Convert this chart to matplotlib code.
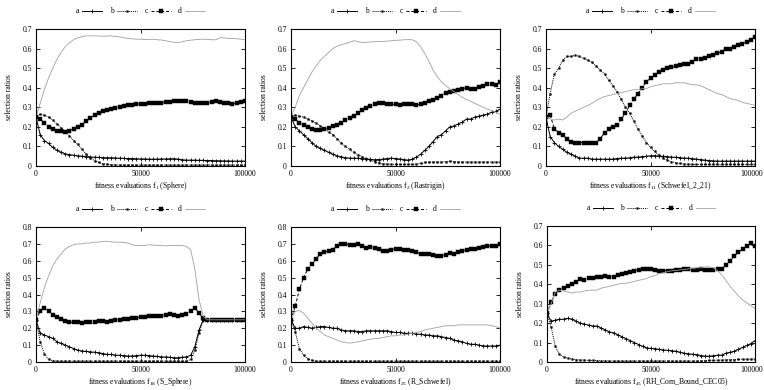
import matplotlib
matplotlib.use('Agg')
import matplotlib.pyplot as plt
from matplotlib.transforms import ScaledTranslation

plt.rcParams['font.family'] = ['Liberation Serif', 'DejaVu Serif']
plt.rcParams['mathtext.fontset'] = 'custom'
plt.rcParams['mathtext.rm'] = 'Liberation Serif'
plt.rcParams['mathtext.it'] = 'Liberation Serif'

evals = list(range(0, 100001, 2000))
labels = ['a', 'b', 'c', 'd']

# f1 Sphere
sphere_a = [0.25, 0.16, 0.13, 0.115, 0.095, 0.08, 0.07, 0.062, 0.058, 0.055,
            0.052, 0.05, 0.048, 0.046, 0.045, 0.044, 0.043, 0.042, 0.042, 0.041,
            0.04, 0.039, 0.038, 0.038, 0.037, 0.036, 0.036, 0.035, 0.035, 0.035,
            0.036, 0.036, 0.037, 0.037, 0.035, 0.032, 0.03, 0.03, 0.03, 0.029,
            0.029, 0.028, 0.028, 0.027, 0.027, 0.026, 0.026, 0.025, 0.025, 0.025,
            0.025]
sphere_b = [0.25, 0.265, 0.26, 0.25, 0.235, 0.215, 0.195, 0.175, 0.155, 0.13,
            0.11, 0.085, 0.06, 0.042, 0.028, 0.018, 0.012, 0.009, 0.007, 0.006,
            0.005, 0.005, 0.005, 0.005, 0.005, 0.005, 0.005, 0.005, 0.005, 0.005,
            0.005, 0.005, 0.005, 0.005, 0.005, 0.005, 0.005, 0.005, 0.005, 0.005,
            0.005, 0.005, 0.005, 0.005, 0.005, 0.005, 0.005, 0.005, 0.005, 0.005,
            0.005]
sphere_c = [0.25, 0.24, 0.22, 0.2, 0.19, 0.18, 0.177, 0.175, 0.18, 0.19,
            0.2, 0.21, 0.23, 0.245, 0.26, 0.27, 0.28, 0.285, 0.29, 0.295,
            0.3, 0.305, 0.31, 0.312, 0.315, 0.318, 0.318, 0.32, 0.32, 0.322,
            0.322, 0.325, 0.325, 0.33, 0.333, 0.333, 0.33, 0.325, 0.322, 0.32,
            0.32, 0.322, 0.325, 0.333, 0.328, 0.32, 0.32, 0.318, 0.322, 0.325,
            0.33]
sphere_d = [0.25, 0.32, 0.39, 0.45, 0.5, 0.545, 0.58, 0.61, 0.63, 0.645,
            0.655, 0.66, 0.665, 0.665, 0.665, 0.664, 0.663, 0.664, 0.665, 0.662,
            0.66, 0.655, 0.652, 0.65, 0.648, 0.648, 0.646, 0.647, 0.648, 0.645,
            0.644, 0.64, 0.636, 0.632, 0.63, 0.635, 0.64, 0.643, 0.645, 0.647,
            0.648, 0.647, 0.645, 0.645, 0.655, 0.655, 0.652, 0.652, 0.65, 0.648,
            0.645]

# f2 Rastrigin
rastrigin_a = [0.25, 0.2, 0.18, 0.16, 0.14, 0.12, 0.1, 0.09, 0.08, 0.07,
               0.06, 0.052, 0.047, 0.043, 0.04, 0.04, 0.04, 0.038, 0.036, 0.034,
               0.032, 0.033, 0.035, 0.038, 0.04, 0.038, 0.036, 0.033, 0.03, 0.035,
               0.045, 0.06, 0.08, 0.1, 0.125, 0.15, 0.16, 0.18, 0.2, 0.205,
               0.215, 0.225, 0.24, 0.24, 0.25, 0.255, 0.26, 0.265, 0.275, 0.28,
               0.29]
rastrigin_b = [0.25, 0.26, 0.255, 0.25, 0.24, 0.23, 0.22, 0.205, 0.19, 0.175,
               0.16, 0.14, 0.12, 0.1, 0.085, 0.07, 0.058, 0.048, 0.038, 0.03,
               0.022, 0.016, 0.012, 0.01, 0.009, 0.008, 0.008, 0.008, 0.008, 0.009,
               0.01, 0.013, 0.018, 0.02, 0.02, 0.02, 0.02, 0.022, 0.025, 0.022,
               0.02, 0.02, 0.02, 0.02, 0.02, 0.02, 0.02, 0.02, 0.02, 0.02,
               0.02]
rastrigin_c = [0.25, 0.24, 0.22, 0.21, 0.2, 0.19, 0.185, 0.185, 0.19, 0.195,
               0.205, 0.21, 0.22, 0.235, 0.245, 0.255, 0.27, 0.285, 0.295, 0.305,
               0.315, 0.32, 0.32, 0.318, 0.315, 0.315, 0.312, 0.315, 0.318, 0.315,
               0.31, 0.318, 0.322, 0.33, 0.338, 0.345, 0.36, 0.375, 0.38, 0.385,
               0.39, 0.395, 0.4, 0.395, 0.395, 0.405, 0.41, 0.42, 0.42, 0.415,
               0.43]
rastrigin_d = [0.25, 0.3, 0.36, 0.4, 0.44, 0.48, 0.51, 0.54, 0.56, 0.58,
               0.6, 0.612, 0.62, 0.625, 0.632, 0.64, 0.636, 0.63, 0.632, 0.634,
               0.635, 0.636, 0.637, 0.638, 0.64, 0.642, 0.643, 0.645, 0.646, 0.645,
               0.635, 0.61, 0.575, 0.535, 0.49, 0.455, 0.43, 0.41, 0.395, 0.38,
               0.365, 0.35, 0.34, 0.33, 0.32, 0.31, 0.3, 0.29, 0.283, 0.275,
               0.265]

# f11 Schwefel_2_21
schwefel_a = [0.25, 0.15, 0.12, 0.1, 0.085, 0.07, 0.06, 0.05, 0.04, 0.04,
              0.04, 0.035, 0.035, 0.035, 0.035, 0.035, 0.035, 0.038, 0.04, 0.04,
              0.042, 0.045, 0.045, 0.048, 0.05, 0.052, 0.053, 0.05, 0.05, 0.048,
              0.045, 0.045, 0.043, 0.04, 0.04, 0.038, 0.035, 0.033, 0.03, 0.028,
              0.026, 0.025, 0.025, 0.025, 0.025, 0.025, 0.025, 0.025, 0.025, 0.025,
              0.025]
schwefel_b = [0.25, 0.37, 0.47, 0.5, 0.54, 0.56, 0.56, 0.565, 0.56, 0.55,
              0.54, 0.53, 0.51, 0.49, 0.47, 0.44, 0.41, 0.38, 0.34, 0.3,
              0.27, 0.23, 0.19, 0.155, 0.12, 0.095, 0.075, 0.055, 0.04, 0.03,
              0.022, 0.017, 0.013, 0.01, 0.009, 0.008, 0.008, 0.008, 0.008, 0.008,
              0.008, 0.008, 0.008, 0.008, 0.008, 0.008, 0.008, 0.008, 0.008, 0.008,
              0.008]
schwefel_c = [0.25, 0.26, 0.19, 0.17, 0.16, 0.14, 0.125, 0.12, 0.12, 0.12,
              0.12, 0.12, 0.12, 0.14, 0.17, 0.19, 0.2, 0.21, 0.24, 0.27,
              0.31, 0.34, 0.37, 0.4, 0.43, 0.45, 0.465, 0.48, 0.49, 0.5,
              0.505, 0.51, 0.515, 0.52, 0.52, 0.53, 0.545, 0.545, 0.55, 0.56,
              0.565, 0.575, 0.585, 0.6, 0.6, 0.61, 0.62, 0.625, 0.635, 0.645,
              0.66]
schwefel_d = [0.25, 0.24, 0.235, 0.24, 0.235, 0.25, 0.27, 0.28, 0.29, 0.3,
              0.31, 0.32, 0.335, 0.345, 0.355, 0.36, 0.365, 0.37, 0.375, 0.38,
              0.385, 0.39, 0.39, 0.395, 0.395, 0.405, 0.41, 0.415, 0.42, 0.42,
              0.42, 0.425, 0.425, 0.425, 0.42, 0.415, 0.415, 0.41, 0.4, 0.39,
              0.38, 0.37, 0.365, 0.355, 0.345, 0.34, 0.335, 0.325, 0.32, 0.315,
              0.31]

# f18 S_Sphere
ssphere_a = [0.25, 0.17, 0.16, 0.15, 0.14, 0.12, 0.11, 0.1, 0.09, 0.08,
             0.07, 0.065, 0.063, 0.06, 0.058, 0.055, 0.05, 0.045, 0.045, 0.04,
             0.04, 0.038, 0.035, 0.035, 0.038, 0.04, 0.04, 0.038, 0.035, 0.033,
             0.03, 0.03, 0.028, 0.025, 0.025, 0.028, 0.03, 0.04, 0.09, 0.19,
             0.25, 0.25, 0.25, 0.25, 0.25, 0.25, 0.25, 0.25, 0.25, 0.25,
             0.25]
ssphere_b = [0.25, 0.12, 0.05, 0.015, 0.008, 0.005, 0.005, 0.005, 0.005, 0.005,
             0.005, 0.005, 0.005, 0.005, 0.005, 0.005, 0.005, 0.005, 0.005, 0.005,
             0.005, 0.005, 0.005, 0.005, 0.005, 0.005, 0.005, 0.005, 0.005, 0.005,
             0.005, 0.005, 0.005, 0.005, 0.005, 0.005, 0.005, 0.015, 0.07, 0.17,
             0.25, 0.25, 0.25, 0.25, 0.25, 0.25, 0.25, 0.25, 0.25, 0.25,
             0.25]
ssphere_c = [0.25, 0.3, 0.32, 0.3, 0.28, 0.265, 0.255, 0.245, 0.235, 0.235,
             0.235, 0.232, 0.235, 0.24, 0.24, 0.245, 0.245, 0.24, 0.245, 0.25,
             0.25, 0.255, 0.255, 0.26, 0.26, 0.265, 0.265, 0.27, 0.27, 0.27,
             0.275, 0.28, 0.285, 0.28, 0.275, 0.28, 0.285, 0.3, 0.32, 0.29,
             0.26, 0.25, 0.25, 0.25, 0.25, 0.25, 0.25, 0.25, 0.25, 0.25,
             0.25]
ssphere_d = [0.25, 0.35, 0.44, 0.51, 0.57, 0.61, 0.64, 0.67, 0.685, 0.695,
             0.7, 0.7, 0.705, 0.705, 0.71, 0.71, 0.715, 0.715, 0.712, 0.71,
             0.71, 0.708, 0.705, 0.695, 0.69, 0.69, 0.69, 0.695, 0.693, 0.69,
             0.69, 0.688, 0.69, 0.69, 0.69, 0.69, 0.685, 0.665, 0.55, 0.37,
             0.27, 0.25, 0.25, 0.25, 0.25, 0.25, 0.25, 0.25, 0.25, 0.25,
             0.25]

# f25 R_Schwefel
rschwefel_a = [0.25, 0.2, 0.2, 0.21, 0.205, 0.2, 0.205, 0.21, 0.21, 0.205,
               0.2, 0.2, 0.19, 0.185, 0.185, 0.185, 0.18, 0.18, 0.185, 0.185,
               0.185, 0.185, 0.185, 0.185, 0.18, 0.175, 0.175, 0.17, 0.17, 0.17,
               0.165, 0.165, 0.16, 0.16, 0.155, 0.155, 0.15, 0.145, 0.14, 0.13,
               0.125, 0.12, 0.11, 0.105, 0.105, 0.1, 0.095, 0.095, 0.095, 0.095,
               0.1]
rschwefel_b = [0.25, 0.18, 0.08, 0.04, 0.02, 0.01, 0.005, 0.005, 0.005, 0.005,
               0.005, 0.005, 0.005, 0.005, 0.005, 0.005, 0.005, 0.005, 0.005, 0.005,
               0.005, 0.005, 0.005, 0.005, 0.005, 0.005, 0.005, 0.005, 0.005, 0.005,
               0.005, 0.005, 0.005, 0.005, 0.005, 0.005, 0.005, 0.005, 0.005, 0.005,
               0.005, 0.005, 0.005, 0.005, 0.005, 0.005, 0.005, 0.005, 0.005, 0.005,
               0.005]
rschwefel_c = [0.25, 0.33, 0.43, 0.5, 0.55, 0.58, 0.61, 0.64, 0.65, 0.66,
               0.665, 0.69, 0.7, 0.7, 0.695, 0.695, 0.7, 0.69, 0.675, 0.68,
               0.675, 0.67, 0.66, 0.66, 0.665, 0.67, 0.67, 0.665, 0.665, 0.66,
               0.65, 0.64, 0.64, 0.64, 0.635, 0.63, 0.63, 0.635, 0.645, 0.64,
               0.65, 0.66, 0.665, 0.67, 0.67, 0.675, 0.68, 0.685, 0.69, 0.69,
               0.7]
rschwefel_d = [0.25, 0.3, 0.305, 0.29, 0.26, 0.23, 0.2, 0.18, 0.16, 0.15,
               0.14, 0.13, 0.12, 0.115, 0.112, 0.115, 0.12, 0.125, 0.13, 0.135,
               0.14, 0.14, 0.145, 0.15, 0.155, 0.155, 0.16, 0.16, 0.165, 0.17,
               0.175, 0.18, 0.19, 0.195, 0.2, 0.205, 0.21, 0.215, 0.215, 0.215,
               0.22, 0.22, 0.22, 0.22, 0.22, 0.22, 0.22, 0.22, 0.215, 0.21,
               0.2]

# f45 RH_Com_Bound_CEC05
cec_a = [0.25, 0.21, 0.215, 0.22, 0.22, 0.225, 0.22, 0.21, 0.2, 0.195,
         0.19, 0.185, 0.185, 0.175, 0.165, 0.155, 0.15, 0.14, 0.13, 0.12,
         0.11, 0.1, 0.09, 0.08, 0.072, 0.07, 0.068, 0.065, 0.062, 0.06,
         0.058, 0.055, 0.05, 0.045, 0.042, 0.04, 0.038, 0.033, 0.03, 0.03,
         0.032, 0.035, 0.035, 0.045, 0.05, 0.055, 0.065, 0.075, 0.085, 0.095,
         0.11]
cec_b = [0.25, 0.18, 0.08, 0.04, 0.025, 0.02, 0.015, 0.012, 0.01, 0.01,
         0.008, 0.008, 0.007, 0.006, 0.006, 0.005, 0.005, 0.005, 0.005, 0.005,
         0.005, 0.005, 0.005, 0.005, 0.005, 0.005, 0.005, 0.005, 0.005, 0.005,
         0.005, 0.005, 0.005, 0.005, 0.005, 0.005, 0.005, 0.006, 0.007, 0.008,
         0.008, 0.009, 0.01, 0.011, 0.012, 0.012, 0.013, 0.014, 0.014, 0.015,
         0.015]
cec_c = [0.25, 0.31, 0.35, 0.37, 0.38, 0.39, 0.4, 0.41, 0.425, 0.42,
         0.43, 0.43, 0.435, 0.44, 0.445, 0.44, 0.44, 0.45, 0.455, 0.46,
         0.465, 0.47, 0.475, 0.48, 0.48, 0.48, 0.475, 0.47, 0.47, 0.47,
         0.47, 0.475, 0.475, 0.48, 0.48, 0.475, 0.475, 0.48, 0.475, 0.475,
         0.475, 0.48, 0.48, 0.5, 0.52, 0.545, 0.565, 0.58, 0.595, 0.61,
         0.595]
cec_d = [0.25, 0.3, 0.36, 0.37, 0.365, 0.36, 0.355, 0.36, 0.36, 0.365,
         0.37, 0.37, 0.37, 0.38, 0.385, 0.39, 0.395, 0.4, 0.405, 0.405,
         0.41, 0.415, 0.42, 0.425, 0.43, 0.44, 0.445, 0.455, 0.46, 0.465,
         0.47, 0.47, 0.475, 0.475, 0.48, 0.48, 0.485, 0.485, 0.49, 0.49,
         0.485, 0.47, 0.45, 0.42, 0.39, 0.365, 0.34, 0.32, 0.305, 0.29,
         0.275]

panels = [
    ('1', 'Sphere', 0.7, [sphere_a, sphere_b, sphere_c, sphere_d]),
    ('2', 'Rastrigin', 0.7, [rastrigin_a, rastrigin_b, rastrigin_c, rastrigin_d]),
    ('11', 'Schwefel_2_21', 0.7, [schwefel_a, schwefel_b, schwefel_c, schwefel_d]),
    ('18', 'S_Sphere', 0.8, [ssphere_a, ssphere_b, ssphere_c, ssphere_d]),
    ('25', 'R_Schwefel', 0.8, [rschwefel_a, rschwefel_b, rschwefel_c, rschwefel_d]),
    ('45', 'RH_Com_Bound_CEC05', 0.7, [cec_a, cec_b, cec_c, cec_d]),
]

# axes boxes in pixels: left, top, right, bottom
boxes = [
    (36, 29, 245, 166), (291, 29, 500, 166), (546, 29, 755, 166),
    (36, 227, 245, 362), (291, 227, 500, 362), (547, 226, 755, 362),
]

styles = [
    dict(color='black', ls='-', lw=0.7, marker='+', ms=2.8, mew=0.6),
    dict(color='black', ls=(0, (1, 1)), lw=0.7, marker='s', ms=1.2, mew=0.3),
    dict(color='black', ls=(0, (3, 2)), lw=0.7, marker='s', ms=2.2, mew=0.3),
    dict(color='#a0a0a0', ls='-', lw=0.6),
]

W, H = 764, 390
fig = plt.figure(figsize=(W / 100, H / 100), dpi=100)

for (num, name, ymax, series), (l, t, r, b) in zip(panels, boxes):
    ax = fig.add_axes([l / W, 1 - b / H, (r - l) / W, (b - t) / H])
    for lab, ys, st in zip(labels, series, styles):
        ax.plot(evals, ys, label=lab, **st)
    ax.set_xlim(0, 100000)
    ax.set_ylim(0, ymax)
    ax.set_xticks([0, 50000, 100000])
    ax.set_xticklabels(['0', '50000', '100000'])
    yt = [i / 10 for i in range(int(round(ymax * 10)) + 1)]
    ax.set_yticks(yt)
    ax.set_yticklabels(['%g' % v for v in yt])
    ax.tick_params(direction='in', top=True, right=True, labelsize=5.5,
                   length=3, width=0.6, pad=3)
    for sp in ax.spines.values():
        sp.set_linewidth(0.8)
    if r > 750:
        # keep the last tick label inside the canvas
        last = ax.get_xticklabels()[-1]
        last.set_transform(last.get_transform() + ScaledTranslation(-3 / 100, 0, fig.dpi_scale_trans))
    ax.set_xlabel('fitness evaluations f$_{%s}$ (%s)' % (num, name), fontsize=5.5, labelpad=1.5)
    ax.set_ylabel('selection ratios', fontsize=5.5, labelpad=7)
    ax.legend(loc='center', bbox_to_anchor=(0.5, 1.13), ncol=4, frameon=False,
              fontsize=5.5, markerfirst=False, handlelength=2.6, columnspacing=1.0,
              handletextpad=0.4)

fig.savefig('out.png', dpi=100, facecolor='white')
